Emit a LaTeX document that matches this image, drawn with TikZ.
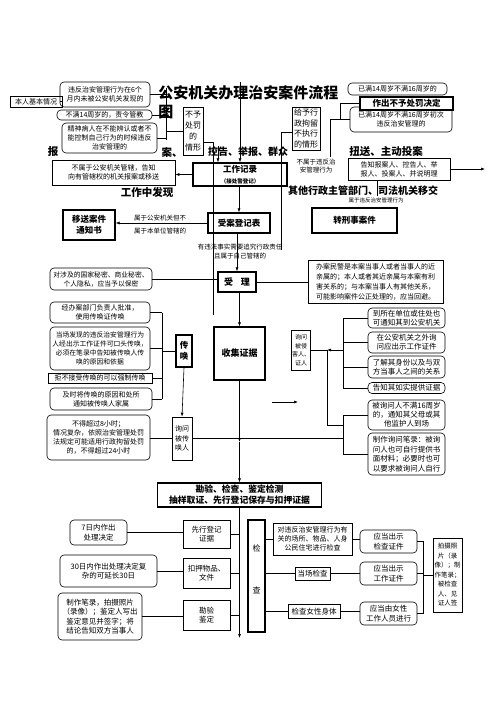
\documentclass[tikz,border=0pt]{standalone}
\usepackage{fontspec}
\setmainfont{Noto Sans CJK SC}
\usetikzlibrary{arrows.meta}
\newcommand{\fsz}[2]{\fontsize{#1pt}{#2pt}\selectfont}

\begin{document}
\begin{tikzpicture}[x=1pt,y=-1pt,
    line width=0.6pt,
    note/.style={draw, rounded corners=4pt, align=center, inner sep=1pt, font=\fsz{7}{9}},
    sqbox/.style={draw, align=center, inner sep=1pt, font=\fsz{7}{9}},
    keybox/.style={draw, line width=1.2pt, align=center, inner sep=1pt, font=\bfseries\fsz{8.5}{11}},
    head/.style={font=\bfseries\fsz{10.5}{12}, inner sep=0pt},
    lbl/.style={font=\fsz{6.5}{8.5}, align=center, inner sep=0pt},
    sz/.style 2 args={minimum width=#1pt, minimum height=#2pt},
    arr/.style={-{Latex[length=4pt,width=3pt]}}
]
    \useasboundingbox[fill=white] (0,0) rectangle (500,708);

    % title
    \node[anchor=north west, align=left, inner sep=0pt, font=\bfseries\fsz{15}{19}] (title) at (158,85) {公安机关办理治安案件流程\\图};

    % cases with no punishment, left side
    \node[sqbox, sz={52}{11}] (basic) at (36,101.5) {本人基本情况};
    \node[note, sz={90}{25}] (late6m) at (105,94.5) {违反治安管理行为在6个\\月内未被公安机关发现的};
    \node[note, sz={95}{10}] (under14) at (104.5,115) {不满14周岁的，责令管教};
    \node[note, sz={95}{30}] (mental) at (109.5,138) {精神病人在不能辨认或者不\\能控制自己行为的时候违反\\治安管理的};
    \node[sqbox, sz={20}{48}, font=\fsz{8}{11}] (nopunish) at (193,131) {不予\\处罚\\的\\情形};

    % cases with no punishment, right side
    \node[note, sz={102}{25}] (first1416) at (401,119.5) {已满14周岁不满16周岁初次\\违反治安管理的};
    \node[note, sz={99}{12}] (age1416) at (397.5,89) {已满14周岁不满16周岁的};
    \node[keybox, fill=white, sz={93}{13}, font=\bfseries\fsz{8.5}{10}] (nopunishdec) at (406.5,103.5) {作出不予处罚决定};
    \node[sqbox, sz={28}{43}, font=\fsz{8}{10.5}] (detain) at (306,128.5) {给予行\\政拘留\\不执行\\的情形};

    % sources of a case
    \node[head] (hbao) at (53,152) {报};
    \node[head] (han) at (172,152) {案、};
    \node[head, font=\bfseries\fsz{10}{12}] (hkong) at (248,152) {控告、举报、群众};
    \node[head] (hniu) at (386,152) {扭送、主动投案};
    \node[head] (hwork) at (147,192) {工作中发现};
    \node[head, font=\bfseries\fsz{10}{12}] (hother) at (363,191) {其他行政主管部门、司法机关移交};

    % work record
    \node[keybox, sz={94}{23}] (record) at (240,174.5) {{\bfseries 工作记录}\\{\fsz{5.5}{7}（接处警登记）}};
    \node[sqbox, sz={123}{25}] (notpolice) at (113.5,172.5) {不属于公安机关管辖，告知\\向有管辖权的机关报案或移送};
    \node[sqbox, sz={102}{22}] (inform) at (399,169) {告知报案人、控告人、举\\报人、投案人、并说明理};
    \node[lbl] (lnotillegal) at (316,166) {不属于违反治\\安管理行为};
    \node[lbl, font=\fsz{5.5}{7}] (lillegal) at (376,200) {属于违反治安管理行为};
    \node[keybox, sz={85}{25}] (criminal) at (354.5,220.5) {转刑事案件};

    % register
    \node[keybox, sz={62}{20}] (register) at (239,223) {受案登记表};
    \node[keybox, sz={52}{30}] (transfer) at (89,225) {移送案件\\通知书};
    \node[lbl] (lother1) at (160,218) {属于公安机关但不};
    \node[lbl] (lother2) at (160,231) {属于本单位管辖的};
    \node[lbl] (lown) at (240,251.5) {有违法事实需要追究行政责任\\且属于自己管辖的};

    % accept
    \node[keybox, sz={38}{20}, font=\bfseries\fsz{9}{11}] (accept) at (237,282) {受\hspace{8pt}理};
    \node[note, sz={102}{22}, font=\fsz{6.8}{9}] (secret) at (101,279) {对涉及的国家秘密、商业秘密、\\个人隐私，应当予以保密};
    \node[sqbox, sz={135}{43}, font=\fsz{7}{10}] (avoid) at (375.5,281.5) {办案民警是本案当事人或者当事人的近\\亲属的；本人或者其近亲属与本案有利\\害关系的；与本案当事人有其他关系，\\可能影响案件公正处理的，应当回避。};
    \node[keybox, sz={51}{53}, font=\bfseries\fsz{9}{11}] (collect) at (239.5,353.5) {收集证据};

    % summons
    \node[note, sz={100}{21}] (sone) at (100,312.5) {经办案部门负责人批准，\\使用传唤证传唤};
    \node[note, sz={100}{43}, font=\fsz{6.8}{9}] (stwo) at (100,348.5) {当场发现的违反治安管理行为\\人经出示工作证件可口头传唤，\\必须在笔录中告知被传唤人传\\唤的原因和依据};
    \node[sqbox, sz={104}{10}] (sthree) at (100,378) {拒不接受传唤的可以强制传唤};
    \node[note, sz={102}{22}] (sfour) at (101,399) {及时将传唤的原因和处所\\通知被传唤人家属};
    \node[note, sz={103}{45}] (sfive) at (98.5,437.5) {不得超过8小时；\\情况复杂，依照治安管理处罚\\法规定可能适用行政拘留处罚\\的，不得超过24小时};
    \node[keybox, sz={16}{32}] (summon) at (184,351) {传\\唤};
    \node[sqbox, sz={20}{43}, font=\fsz{7}{9.5}] (asksum) at (182,438.5) {询问\\被传\\唤人};

    % questioning victims and witnesses
    \node[sqbox, sz={18}{40}, inner sep=0.5pt, font=\fsz{6}{8.5}] (askvic) at (301,350) {询问\\被侵\\害人、\\证人};
    \node[note, sz={77}{20}, font=\fsz{7.5}{9}] (vone) at (406.5,318) {到所在单位或住处也\\可通知其到公安机关};
    \node[note, sz={77}{21}, font=\fsz{7.5}{9}] (vtwo) at (406.5,342.5) {在公安机关之外询\\问应出示工作证件};
    \node[note, sz={77}{22}, font=\fsz{7.5}{9}] (vthree) at (406.5,367) {了解其身份以及与双\\方当事人之间的关系};
    \node[note, sz={77}{11}, font=\fsz{7.5}{9}] (vfour) at (406.5,388) {告知其如实提供证据};
    \node[note, sz={77}{30}, font=\fsz{7.5}{9}] (vfive) at (406.5,415) {被询问人不满16周岁\\的，通知其父母或其\\他监护人到场};
    \node[note, sz={77}{42}, font=\fsz{7.5}{9.5}] (vsix) at (406.5,454) {制作询问笔录：被询\\问人也可自行提供书\\面材料；必要时也可\\以要求被询问人自行};

    % inspection and evidence
    \node[keybox, sz={164}{24}, font=\bfseries\fsz{8.8}{11}] (inspect) at (239.5,495) {勘验、检查、鉴定检测\\抽样取证、先行登记保存与扣押证据};
    \node[note, sz={57}{25}, font=\fsz{7.5}{9.5}] (dseven) at (98.5,532.5) {7日内作出\\处理决定};
    \node[sqbox, sz={47}{28}, font=\fsz{7.5}{9.5}] (reg) at (206.5,534) {先行登记\\证据};
    \node[note, sz={97}{32}, font=\fsz{7.5}{9.5}] (dthirty) at (108.5,571) {30日内作出处理决定复\\杂的可延长30日};
    \node[sqbox, sz={47}{30}, font=\fsz{7.5}{9.5}] (seize) at (206.5,573) {扣押物品、\\文件};
    \node[note, sz={84}{47}, font=\fsz{7.5}{9.5}] (apprnote) at (100,616.5) {制作笔录，拍摄照片\\（录像）；鉴定人写出\\鉴定意见并签字；将\\结论告知双方当事人};
    \node[sqbox, sz={47}{30}, font=\fsz{7.5}{9.5}] (appr) at (206.5,615) {勘验\\鉴定};

    % check
    \node[draw, line width=1.2pt, sz={17}{112}] (check) at (256.5,576) {};
    \node[font=\fsz{8}{10}, inner sep=0pt] (checka) at (256.5,548) {检};
    \node[font=\fsz{8}{10}, inner sep=0pt] (checkb) at (256.5,590) {查};
    \node[sqbox] [sz={79}{32}] (ckplace) at (312.5,539) {对违反治安管理行为有\\关的场所、物品、人身\\公民住宅进行检查};
    \node[note, sz={57}{23}, font=\fsz{7.5}{9.5}] (ckcert) at (388.5,541.5) {应当出示\\检查证件};
    \node[sqbox, sz={35}{13}, font=\fsz{7.5}{9}] (onsite) at (312.5,573.5) {当场检查};
    \node[note, sz={57}{23}, font=\fsz{7.5}{9.5}] (ckwork) at (388.5,573.5) {应当出示\\工作证件};
    \node[sqbox, sz={52}{14}, font=\fsz{7.5}{9}] (female) at (314,611.5) {检查女性身体};
    \node[note, sz={57}{23}, font=\fsz{7.5}{9.5}] (femstaff) at (388.5,613.5) {应当由女性\\工作人员进行};
    \node[sqbox, sz={29}{74}, font=\fsz{6.5}{9.5}] (photo) at (447.5,575) {拍摄照\\片（录\\像）；制\\作笔录；\\被检查\\人、见\\证人签};

    % helper points
    \coordinate (lbrt) at (166,88);
    \coordinate (lbrb) at (166,140);
    \coordinate (npd) at (213,142);
    \coordinate (npend) at (213,315);
    \coordinate (ctop) at (218,146);
    \coordinate (rtop) at (240,82);
    \coordinate (dtl) at (281,132);
    \coordinate (dtend) at (281,250);
    \coordinate (rbt) at (340,103.5);
    \coordinate (rbb) at (340,119.5);
    \coordinate (nvt) at (330,119.5);
    \coordinate (nvend) at (330,157);
    \coordinate (infout) at (485,169);
    \coordinate (crimlbl) at (377,196);
    \coordinate (sbt) at (162,312.5);
    \coordinate (sbb) at (162,399);
    \coordinate (vbr) at (343,350);
    \coordinate (vjoin) at (327,350);
    \coordinate (vjoinb) at (327,425);
    \coordinate (fafrom) at (272,402);
    \coordinate (fato) at (298,402);
    \coordinate (midc) at (239.5,442);
    \coordinate (lowend) at (239.5,638);
    \coordinate (cbr) at (423,575);

    % connectors, top part
    \draw (basic.east) -- (basic.east -| late6m.west);
    \draw (late6m.east) -- (late6m.east -| lbrt);
    \draw (under14.east) -- (under14.east -| lbrt);
    \draw (mental.east) -- (mental.east -| lbrt);
    \draw (lbrt) -- (lbrb);
    \draw (lbrt |- nopunish.west) -- (nopunish.west);
    \draw (nopunish.east |- npd) -- (npd) -- (npend);
    \draw[arr] (ctop) -- (ctop |- record.north);
    \draw[arr] (rtop) -- (record.north);
    \draw (detain.west |- dtl) -- (dtl) -- (dtend);
    \draw (nopunishdec.west) -- (rbt) -- (rbb) -- (first1416.west);
    \draw (rbb) -- (nvt) -- (nvend);
    \draw[arr] (inform.east) -- (infout);
    \draw (inform.south -| crimlbl) -- (crimlbl);
    \draw[arr] (record.west) -- (record.west -| notpolice.east);
    \draw[arr] (record.south -| register.north) -- (register.north);
    \draw[arr] (register.west) -- (register.west -| transfer.east);
    \draw[arr] (register.south -| accept.north) -- (accept.north);
    \draw (secret.east) -- (secret.east -| accept.west);
    \draw (accept.east) -- (accept.east -| avoid.west);
    \draw[arr] (accept.south -| collect.north) -- (collect.north);

    % connectors, summons
    \draw (sone.east) -- (sone.east -| sbt);
    \draw (stwo.east) -- (stwo.east -| sbt);
    \draw (sthree.east) -- (sthree.east -| sbt);
    \draw (sfour.east) -- (sfour.east -| sbt);
    \draw (sbt) -- (sbb);
    \draw (sbt |- summon.west) -- (summon.west);
    \draw[arr] (summon.south) -- (asksum.north);
    \draw (sfive.east |- asksum.west) -- (asksum.west);
    \draw (asksum.east) -- (asksum.east -| vbr);

    % connectors, questioning
    \draw (vone.west) -- (vone.west -| vbr);
    \draw (vtwo.west) -- (vtwo.west -| vbr);
    \draw (vthree.west) -- (vthree.west -| vbr);
    \draw (vfour.west) -- (vfour.west -| vbr);
    \draw (vone.west -| vbr) -- (vfour.west -| vbr);
    \draw[arr] (vbr) -- (vjoin);
    \draw (vjoin) -- (askvic.east);
    \draw (vjoin) -- (vjoinb) -- (vjoinb -| vbr);
    \draw (vfive.west) -- (vfive.west -| vbr) -- (vsix.west -| vbr) -- (vsix.west);
    \draw[arr] (fafrom) -- (fato);

    % connectors, evidence
    \draw[arr] (collect.south) -- (midc);
    \draw[arr] (midc) -- (inspect.north);
    \draw[arr] (inspect.south) -- (lowend);
    \draw (dseven.east) -- (dseven.east -| reg.west);
    \draw (reg.east) -- (reg.east -| lowend);
    \draw (dthirty.east) -- (dthirty.east -| seize.west);
    \draw (seize.east) -- (seize.east -| lowend);
    \draw (apprnote.east) -- (apprnote.east -| appr.west);
    \draw (appr.east) -- (appr.east -| lowend);

    % connectors, check
    \draw (ckplace.west -| check.east) -- (ckplace.west);
    \draw (ckplace.east) -- (ckplace.east -| ckcert.west);
    \draw (onsite.west -| check.east) -- (onsite.west);
    \draw (onsite.east) -- (ckwork.west);
    \draw (female.west -| check.east) -- (female.west);
    \draw (female.east) -- (female.east -| femstaff.west);
    \draw (ckcert.east) -- (ckcert.east -| cbr) -- (femstaff.east -| cbr) -- (femstaff.east);
    \draw (ckwork.east) -- (ckwork.east -| cbr);
    \draw (cbr) -- (photo.west);
\end{tikzpicture}
\end{document}
